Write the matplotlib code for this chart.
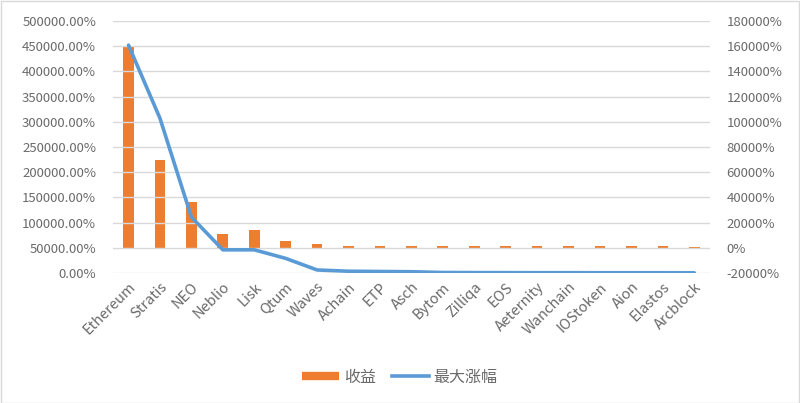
import matplotlib
matplotlib.use("Agg")
import matplotlib.pyplot as plt
from matplotlib.lines import Line2D
from matplotlib.ticker import FuncFormatter
import numpy as np

plt.rcParams['font.family'] = ['Noto Sans CJK SC', 'DejaVu Sans']

categories = ["Ethereum", "Stratis", "NEO", "Neblio", "Lisk", "Qtum", "Waves",
              "Achain", "ETP", "Asch", "Bytom", "Zilliqa", "EOS", "Aeternity",
              "Wanchain", "IOStoken", "Aion", "Elastos", "Arcblock"]
# 收益 (bars, right axis, %)
returns = [159000, 70000, 36500, 11100, 14000, 5000, 2900,
           1800, 1800, 1800, 1600, 1600, 1600, 1600, 1600, 1600, 1600, 1600, 800]
# 最大涨幅 (line, left axis, %)
max_gain = [452000, 307000, 111000, 46000, 46000, 29000, 6000,
            3500, 3000, 2500, 1000, 800, 700, 600, 600, 500, 500, 500, 400]

orange = "#ED7D31"
blue = "#5B9BD5"
grid_c = "#D9D9D9"
txt_c = "#6A6A6A"

fig = plt.figure(figsize=(8, 4.03), dpi=100)
ax = fig.add_axes([0.141, 0.3226, 0.7465, 0.6254])
ax2 = ax.twinx()

x = np.arange(len(categories))
ax2.bar(x, returns, width=0.34, color=orange, zorder=2)
ax.plot(x, max_gain, color=blue, lw=2.6, solid_capstyle='round', zorder=3)

ax.set_zorder(ax2.get_zorder() + 1)
ax.patch.set_visible(False)

ax.set_ylim(0, 500000)
ax.set_yticks(np.arange(0, 500001, 50000))
ax.yaxis.set_major_formatter(FuncFormatter(lambda v, p: f"{v:.2f}%"))
ax2.set_ylim(-20000, 180000)
ax2.set_yticks(np.arange(-20000, 180001, 20000))
ax2.yaxis.set_major_formatter(FuncFormatter(lambda v, p: f"{int(v)}%"))

ax.set_xlim(-0.5, len(categories) - 0.5)
ax.set_xticks(x)
ax.set_xticklabels(categories, rotation=45, ha='right', rotation_mode='anchor',
                   fontsize=10.5, color=txt_c)

for a in (ax, ax2):
    for s in a.spines.values():
        s.set_visible(False)
    a.tick_params(length=0, labelsize=9.5, labelcolor=txt_c)
ax.tick_params(axis='x', labelsize=10.5, pad=5)
ax.tick_params(axis='y', pad=12)
ax2.tick_params(axis='y', pad=12)

ax2.grid(False)
ax.grid(False)
for v in np.arange(0, 500001, 50000):
    ax.axhline(v, color=grid_c, lw=1, zorder=0)

handles = [Line2D([0], [0], color=orange, lw=6, solid_capstyle='butt'),
           Line2D([0], [0], color=blue, lw=2.6)]
fig.legend(handles, ["收益", "最大涨幅"], loc='center', bbox_to_anchor=(0.5, 0.064),
           ncol=2, frameon=False, fontsize=11.5, handlelength=2.3,
           handletextpad=0.3, columnspacing=1.0, labelcolor=txt_c)

fig.patches.append(plt.Rectangle((0.001, 0.001), 0.998, 0.997, transform=fig.transFigure,
                                 fill=False, edgecolor="#D9D9D9", lw=1))

fig.savefig("out.png", dpi=100)
